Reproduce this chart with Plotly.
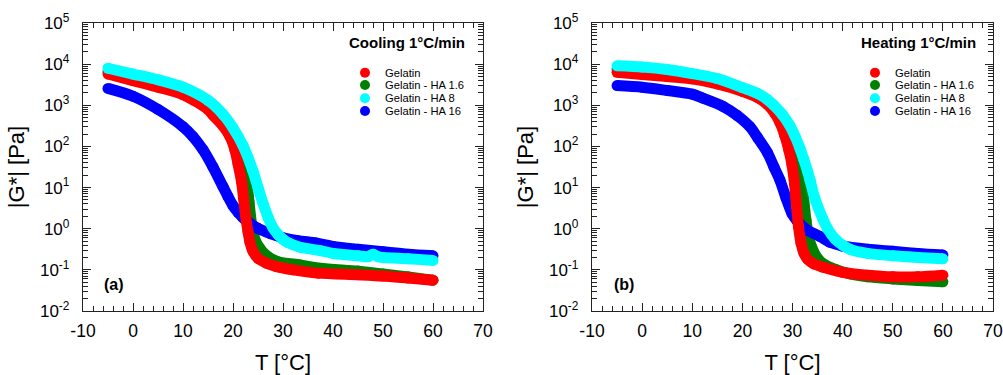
import plotly.graph_objects as go

# ---------------- data ----------------
# Panel (a): cooling 1 °C/min   -- T in °C, |G*| in Pa
T_COOL_GELATIN = [-5, 0, 5, 10, 15, 16, 18, 19.4, 20.4, 21.0, 21.7, 22.1, 22.5, 23.0, 23.4, 24.0, 25.0, 26.7, 28.7, 32, 37, 45, 50, 55, 60]
G_COOL_GELATIN = [5750, 3980, 2750, 1820, 794, 575, 316, 174, 81.3, 38.0, 14.1, 5.62, 2.14, 0.851, 0.468, 0.282, 0.191, 0.145, 0.120, 0.100, 0.0832, 0.0759, 0.0708, 0.0631, 0.0562]

T_COOL_HA1_6 = [-5, 0, 5, 10, 15, 18, 20, 21, 22, 22.7, 23.2, 23.7, 24.2, 25.5, 27, 29, 33.4, 37.4, 45, 50, 55, 60]
G_COOL_HA1_6 = [6610, 4790, 3310, 2140, 1000, 501, 224, 126, 50.1, 16.6, 4.47, 1.32, 0.631, 0.316, 0.209, 0.158, 0.132, 0.110, 0.0933, 0.0794, 0.0676, 0.0562]

T_COOL_HA8 = [-5, 0, 5, 10, 15, 18, 20, 22, 24, 25, 26, 27, 28, 29, 30, 31, 33.4, 37.4, 40, 45, 47, 48, 49, 50, 55, 60]
G_COOL_HA8 = [7940, 5750, 4170, 2750, 1320, 603, 282, 105, 25.1, 10.0, 4.17, 1.91, 1.05, 0.724, 0.550, 0.457, 0.355, 0.295, 0.251, 0.219, 0.209, 0.240, 0.209, 0.200, 0.186, 0.170]

T_COOL_HA16 = [-5, 0, 5, 10, 12, 14, 16, 18, 19, 20, 21, 22, 23.5, 25, 27.5, 30, 33, 36.7, 40, 45, 50, 55, 60]
G_COOL_HA16 = [2570, 1660, 794, 302, 174, 83.2, 31.6, 10.5, 6.03, 3.63, 2.51, 1.86, 1.32, 1.02, 0.759, 0.603, 0.513, 0.447, 0.372, 0.316, 0.275, 0.240, 0.219]

# Panel (b): heating 1 °C/min
T_HEAT_GELATIN = [-5, 0, 5, 10, 15, 20, 23, 25, 26.5, 27.5, 28.5, 29.3, 29.9, 30.4, 30.8, 31.2, 31.7, 32.3, 33, 34.2, 36, 40, 45, 50, 55, 60]
G_HEAT_GELATIN = [6310, 5620, 5010, 4370, 3310, 2190, 1550, 1050, 631, 380, 178, 79.4, 35.5, 12.6, 3.55, 1.12, 0.447, 0.251, 0.182, 0.141, 0.117, 0.0871, 0.0741, 0.0676, 0.0676, 0.0741]

T_HEAT_HA1_6 = [-5, 0, 5, 10, 15, 20, 25, 28, 30, 31, 31.7, 32.2, 32.7, 33.2, 33.8, 35, 36.5, 38.8, 41.5, 45, 50, 55, 60]
G_HEAT_HA1_6 = [7590, 6920, 6030, 5010, 3800, 2400, 1200, 398, 112, 44.7, 17.8, 5.62, 1.58, 0.661, 0.363, 0.191, 0.132, 0.100, 0.0794, 0.0676, 0.0603, 0.0550, 0.0513]

T_HEAT_HA8 = [-5, 0, 5, 10, 15, 20, 23, 25, 26.2, 28, 29.5, 30.5, 31.5, 32.2, 33, 33.5, 34.5, 36, 37, 38.5, 40, 41.5, 45, 50, 55, 60]
G_HEAT_HA8 = [9120, 8510, 7410, 5890, 4470, 2690, 1950, 1380, 1020, 589, 316, 178, 89.1, 50.1, 25.1, 15.1, 5.25, 1.78, 1.0, 0.562, 0.398, 0.316, 0.251, 0.219, 0.200, 0.186]

T_HEAT_HA16 = [-5, 0, 5, 10, 12, 16.2, 19, 21.5, 23, 25, 26.3, 27.5, 28.7, 29.9, 30.9, 32.9, 35.5, 37.5, 40, 45, 50, 55, 60]
G_HEAT_HA16 = [3020, 2750, 2290, 1860, 1510, 933, 562, 302, 166, 70.8, 31.6, 15.1, 5.62, 2.34, 1.58, 0.933, 0.646, 0.468, 0.380, 0.316, 0.282, 0.251, 0.229]

SERIES_NAMES = ["Gelatin", "Gelatin - HA 1.6", "Gelatin - HA 8", "Gelatin - HA 16"]
SERIES_COLORS = ["#ff0000", "#008000", "#00ffff", "#0000ff"]

X_TICKS = [-10, 0, 10, 20, 30, 40, 50, 60, 70]
X_TICK_LABELS = ["-10", "0", "10", "20", "30", "40", "50", "60", "70"]
Y_TICKS = [1e-2, 1e-1, 1e0, 1e1, 1e2, 1e3, 1e4, 1e5]
Y_TICK_LABELS = ["10<sup>-2</sup>", "10<sup>-1</sup>", "10<sup>0</sup>", "10<sup>1</sup>",
                 "10<sup>2</sup>", "10<sup>3</sup>", "10<sup>4</sup>", "10<sup>5</sup>"]

PANEL_TITLES = ["Cooling 1°C/min", "Heating 1°C/min"]
PANEL_LABELS = ["(a)", "(b)"]
X_TITLE = "T [°C]"
Y_TITLE = "|G*| [Pa]"

PANELS = [
    [(T_COOL_GELATIN, G_COOL_GELATIN), (T_COOL_HA1_6, G_COOL_HA1_6), (T_COOL_HA8, G_COOL_HA8), (T_COOL_HA16, G_COOL_HA16)],
    [(T_HEAT_GELATIN, G_HEAT_GELATIN), (T_HEAT_HA1_6, G_HEAT_HA1_6), (T_HEAT_HA8, G_HEAT_HA8), (T_HEAT_HA16, G_HEAT_HA16)],
]
DRAW_ORDER = [1, 3, 0, 2]  # green, blue, red, cyan (cyan on top)

# ---------------- figure ----------------
W, H = 1003, 375
FONT = "Liberation Sans, Arial, Helvetica, sans-serif"
X_DOMAINS = [[83 / W, 483 / W], [592 / W, 993 / W]]

# minor tick positions (axis decoration)
X_MINOR = [v for v in range(-10, 71, 2) if v % 10 != 0]
Y_MINOR = [k * 10.0 ** e for e in range(-2, 5) for k in range(2, 10)]

fig = go.Figure()

for p, panel in enumerate(PANELS):
    xa = "x" if p == 0 else "x2"
    ya = "y" if p == 0 else "y2"
    for i in DRAW_ORDER:
        t, g = panel[i]
        fig.add_trace(go.Scatter(
            x=t, y=g, mode="lines+markers", name=SERIES_NAMES[i],
            line=dict(color=SERIES_COLORS[i], width=11, shape="spline", smoothing=0.8),
            marker=dict(color=SERIES_COLORS[i], size=11),
            xaxis=xa, yaxis=ya, showlegend=False, hoverinfo="skip"))

axis_common = dict(
    showline=True, linecolor="#222222", linewidth=1.3, mirror="allticks",
    ticks="inside", ticklen=8, tickwidth=1.3, tickcolor="#222222",
    showgrid=False, zeroline=False, layer="above traces", automargin=False,
)

layout_axes = {}
for p in range(2):
    sx = "" if p == 0 else "2"
    layout_axes["xaxis" + sx] = dict(
        axis_common, domain=X_DOMAINS[p], anchor="y" + sx, range=[-10, 70],
        tickmode="array", tickvals=X_TICKS, ticktext=X_TICK_LABELS,
        tickfont=dict(family=FONT, size=17.5, color="black"),
        ticklabelstandoff=4,
        minor=dict(ticks="inside", ticklen=5, tickwidth=1.1, tickcolor="#222222",
                   tickmode="array", tickvals=X_MINOR, showgrid=False),
        title=dict(text=X_TITLE, font=dict(family=FONT, size=22, color="black"), standoff=21),
    )
    layout_axes["yaxis" + sx] = dict(
        axis_common, domain=[0, 1], anchor="x" + sx, type="log", range=[-2, 5],
        tickmode="array", tickvals=Y_TICKS, ticktext=Y_TICK_LABELS,
        tickfont=dict(family=FONT, size=17, color="black"),
        ticklabelstandoff=9,
        minor=dict(ticks="inside", ticklen=5, tickwidth=1.1, tickcolor="#222222",
                   tickmode="array", tickvals=Y_MINOR, showgrid=False),
        title=dict(text=Y_TITLE, font=dict(family=FONT, size=22, color="black"), standoff=9),
    )

annotations = []
shapes = []
TITLE_X = [0.96, 0.9626]
LABEL_X = [0.0475, 0.0499]
LEG_MARK_X = [0.705, 0.7057]
LEG_TEXT_X = [0.75, 0.7514]
LEG_ROW_Y = [0.8274, 0.7847, 0.7385, 0.6944]
for p in range(2):
    sx = "" if p == 0 else "2"
    annotations.append(dict(
        text="<b>" + PANEL_TITLES[p] + "</b>", xref="x" + sx + " domain", yref="y" + sx + " domain",
        x=TITLE_X[p], y=0.9306, xanchor="right", yanchor="middle", showarrow=False,
        font=dict(family=FONT, size=15, color="black")))
    annotations.append(dict(
        text="<b>" + PANEL_LABELS[p] + "</b>", xref="x" + sx + " domain", yref="y" + sx + " domain",
        x=LABEL_X[p], y=0.0903, xanchor="left", yanchor="middle", showarrow=False,
        font=dict(family=FONT, size=16, color="black")))
    for i, name in enumerate(SERIES_NAMES):
        annotations.append(dict(
            text=name, xref="x" + sx + " domain", yref="y" + sx + " domain",
            x=LEG_TEXT_X[p], y=LEG_ROW_Y[i], xanchor="left", yanchor="middle", showarrow=False,
            font=dict(family=FONT, size=11.2, color="black")))
        shapes.append(dict(
            type="circle", xref="x" + sx + " domain", yref="y" + sx + " domain",
            xsizemode="pixel", ysizemode="pixel",
            xanchor=LEG_MARK_X[p], yanchor=LEG_ROW_Y[i],
            x0=-5, x1=5, y0=-5, y1=5,
            fillcolor=SERIES_COLORS[i], line=dict(width=0)))

fig.update_layout(
    width=W, height=H, autosize=False,
    margin=dict(l=0, r=0, t=23, b=64, pad=0),
    paper_bgcolor="white", plot_bgcolor="white",
    font=dict(family=FONT, color="black"),
    showlegend=False,
    annotations=annotations, shapes=shapes,
    **layout_axes,
)

fig.write_html("out.html")
